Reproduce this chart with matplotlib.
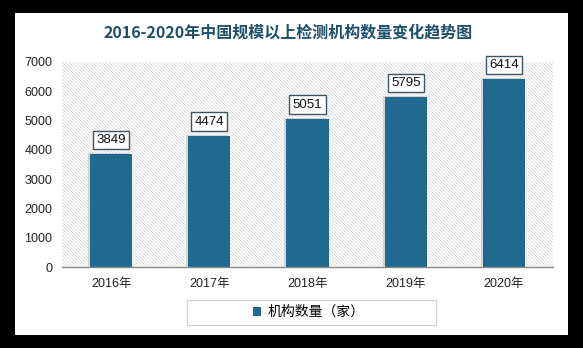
import matplotlib
matplotlib.use("Agg")
import matplotlib.pyplot as plt
from matplotlib.patches import Rectangle
import matplotlib.patheffects as pe

plt.rcParams['font.family'] = ['Noto Sans CJK SC', 'DejaVu Sans']
plt.rcParams['hatch.linewidth'] = 0.5
plt.rcParams['hatch.color'] = '#d2d2d2'

years = ['2016年', '2017年', '2018年', '2019年', '2020年']
counts = [3849, 4474, 5051, 5795, 6414]
y_ticks = [0, 1000, 2000, 3000, 4000, 5000, 6000, 7000]
title = '2016-2020年中国规模以上检测机构数量变化趋势图'
series_name = '机构数量（家）'

bar_color = '#1f6a8e'
title_color = '#1e4f6b'
num_font = ['Liberation Sans', 'Noto Sans CJK SC']

W, H = 583, 348
fig = plt.figure(figsize=(W / 100, H / 100), dpi=100, facecolor='black')


def fx(px):
    return px / W


def fy(py):
    return 1 - py / H


# white card on black background
fig.patches.append(Rectangle((fx(15), fy(335)), fx(568 - 15), (335 - 13) / H,
                             transform=fig.transFigure, facecolor='white',
                             edgecolor='none', zorder=0))
# legend frame
fig.patches.append(Rectangle((fx(187), fy(325)), fx(436 - 187), (325 - 300) / H,
                             transform=fig.transFigure, facecolor='white',
                             edgecolor='#d0d0d0', linewidth=0.8, zorder=1))

ax = fig.add_axes([fx(62), fy(267), fx(553 - 62), (267 - 62) / H])
ax.set_zorder(2)
ax.patch.set_alpha(0)

# hatched plot background
ax.add_patch(Rectangle((0, 0), 1, 1, transform=ax.transAxes, facecolor='none',
                       edgecolor='#d2d2d2', linewidth=0, hatch='\\' * 10, zorder=0))

x = list(range(len(years)))
bars = ax.bar(x, counts, width=0.43, color=bar_color, zorder=3,
              path_effects=[pe.SimplePatchShadow(offset=(-1.5, 1), shadow_rgbFace='#b0b0b0', alpha=0.45),
                            pe.Normal()])

for xi, v in zip(x, counts):
    ax.annotate(f'{v}', xy=(xi, v), xytext=(0, 6), textcoords='offset points',
                ha='center', va='bottom', fontsize=9.5, color='#111111',
                family=num_font, zorder=5,
                bbox=dict(boxstyle='square,pad=0.25', facecolor='white',
                          edgecolor='#3b5563', linewidth=1.0))

ax.set_xlim(-0.5, len(years) - 0.5)
ax.set_ylim(0, 7000)
ax.set_yticks(y_ticks)
ax.set_xticks(x)
ax.set_xticklabels(years)
ax.tick_params(axis='both', length=0, labelsize=9, colors='#222222')
ax.tick_params(axis='y', pad=7)
ax.tick_params(axis='x', pad=8)
for lab in ax.get_xticklabels() + ax.get_yticklabels():
    lab.set_family(num_font)
for s in ['top', 'right', 'left']:
    ax.spines[s].set_visible(False)
ax.spines['bottom'].set_color('#8a8a8a')
ax.spines['bottom'].set_linewidth(1.0)
ax.spines['bottom'].set_zorder(4)

fig.text(fx(288), fy(33), title, ha='center', va='center', fontsize=11.5,
         fontweight='bold', color=title_color, zorder=3)

handle = Rectangle((0, 0), 1, 1, facecolor=bar_color, edgecolor='none')
leg = fig.legend(handles=[handle], labels=[series_name], loc='center',
                 bbox_to_anchor=(fx(309), fy(312)), frameon=False,
                 fontsize=10, handlelength=0.6, handleheight=0.6, handletextpad=0.5,
                 borderpad=0.3)
leg.set_zorder(3)

fig.savefig('out.png', dpi=100, facecolor='black')
